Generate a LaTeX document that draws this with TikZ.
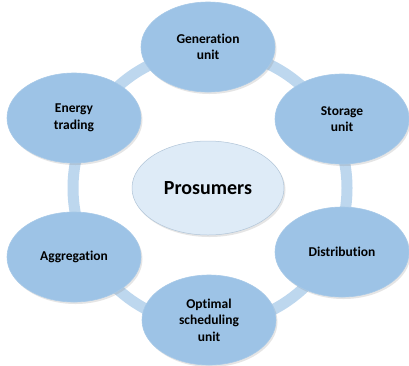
\documentclass[tikz,border=0pt]{standalone}
\usepackage{fontspec}
\setmainfont{Carlito}[Ligatures=NoCommon]
\usetikzlibrary{shapes.geometric,shadows}

\definecolor{partblue}{HTML}{9DC3E6}
\definecolor{ringblue}{HTML}{BDD7EE}
\definecolor{hubblue}{HTML}{DEEBF7}

\tikzset{
  part/.style={ellipse, fill=partblue, draw=partblue!90!white, line width=0.6pt,
    minimum width=134, minimum height=90, inner sep=0pt, align=center,
    font=\fontsize{13.5}{16.5}\selectfont\bfseries,
    drop shadow={opacity=0.2, shadow xshift=1.5pt, shadow yshift=-2pt}},
  hub/.style={ellipse, fill=hubblue, draw=ringblue!80!gray, line width=0.5pt,
    minimum width=152, minimum height=94, inner sep=0pt,
    font=\fontsize{20}{24}\selectfont\bfseries,
    drop shadow={opacity=0.2, shadow xshift=1.5pt, shadow yshift=-2pt}},
  ring/.style={draw=ringblue, line width=11pt}
}

\begin{document}
\begin{tikzpicture}[x=1pt, y=-1pt]
    \useasboundingbox (0,0) rectangle (409,365);
    \fill[white] (0,0) rectangle (409,365);
    \coordinate (mid) at (210,188);
    \draw[ring] (mid) circle (137); % ring behind the parts
    \node[hub] (prosumers) at (208,188) {Prosumers};
    \node[part] (gen) at (208,47) {Generation\\unit};
    \node[part] (storage) at (342,119) {Storage\\unit};
    \node[part] (dist) at (342,252) {Distribution};
    \node[part] (sched) at (209,320) {Optimal\\scheduling\\unit};
    \node[part] (aggr) at (74,257) {Aggregation};
    \node[part] (trade) at (74,118) {Energy\\trading};
\end{tikzpicture}
\end{document}
